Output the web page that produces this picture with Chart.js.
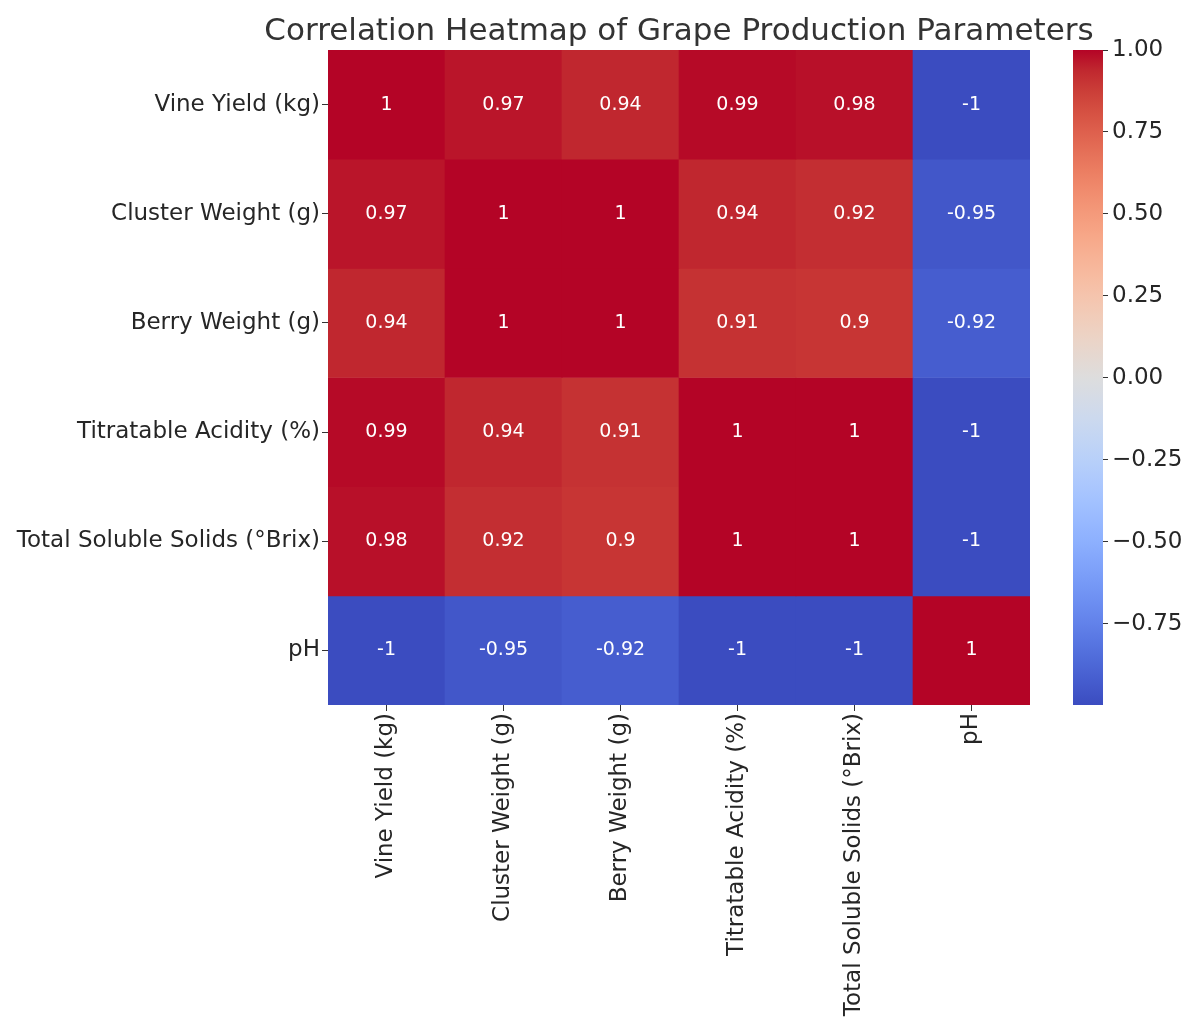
<!DOCTYPE html>
<html>
<head>
<meta charset="utf-8">
<script src="https://cdn.jsdelivr.net/npm/chart.js@4"></script>
<style>
  body { margin: 0; background: #fff; }
  #wrap { position: relative; width: 1188px; height: 1023px; }
  #heat { position: absolute; left: 0; top: 0; }
  #bar { position: absolute; left: 1060px; top: 0; }
</style>
</head>
<body>
<div id="wrap">
  <canvas id="heat" width="1188" height="1023"></canvas>
  <canvas id="bar" width="128" height="1023"></canvas>
</div>
<script>
// data
let variables = ['Vine Yield (kg)', 'Cluster Weight (g)', 'Berry Weight (g)', 'Titratable Acidity (%)', 'Total Soluble Solids (°Brix)', 'pH'];
let vineYield = [1, 0.97, 0.94, 0.99, 0.98, -1];
let clusterWeight = [0.97, 1, 1, 0.94, 0.92, -0.95];
let berryWeight = [0.94, 1, 1, 0.91, 0.9, -0.92];
let acidity = [0.99, 0.94, 0.91, 1, 1, -1];
let solids = [0.98, 0.92, 0.9, 1, 1, -1];
let ph = [-1, -0.95, -0.92, -1, -1, 1];
let matrix = [vineYield, clusterWeight, berryWeight, acidity, solids, ph];
let colorbarTicks = [-0.75, -0.5, -0.25, 0, 0.25, 0.5, 0.75, 1];
let vmin = -0.998;
let vmax = 1;
let title = 'Correlation Heatmap of Grape Production Parameters';

// coolwarm colormap stops
let coolwarm = [
  [59,76,192],[68,90,204],[77,104,215],[87,117,225],[98,130,234],[108,142,241],
  [119,154,247],[130,165,251],[141,176,254],[152,185,255],[163,194,255],[174,201,253],
  [184,208,249],[194,213,244],[204,217,238],[213,219,230],[221,221,221],[229,216,209],
  [236,211,197],[241,204,185],[245,196,173],[247,187,160],[247,177,148],[247,166,135],
  [244,154,123],[241,141,111],[236,127,99],[229,112,88],[222,96,77],[213,80,66],
  [203,62,56],[192,40,47],[180,4,38]
];

function cmap(t) {
  t = Math.max(0, Math.min(1, t));
  let pos = t * (coolwarm.length - 1);
  let i = Math.min(Math.floor(pos), coolwarm.length - 2);
  let f = pos - i;
  let a = coolwarm[i], b = coolwarm[i + 1];
  let c = a.map((v, k) => Math.round(v + (b[k] - v) * f));
  return 'rgb(' + c.join(',') + ')';
}

function colorFor(v) {
  return cmap((v - vmin) / (vmax - vmin));
}

let textColor = '#262626';
let font = 'DejaVu Sans';

// cell annotations + title centred over the heatmap
let cellLabels = {
  id: 'cellLabels',
  afterDatasetsDraw(chart) {
    let ctx = chart.ctx;
    ctx.save();
    ctx.font = '19px "' + font + '"';
    ctx.fillStyle = '#ffffff';
    ctx.textAlign = 'center';
    ctx.textBaseline = 'middle';
    chart.data.datasets.forEach((ds, r) => {
      chart.getDatasetMeta(r).data.forEach((el, c) => {
        ctx.fillText(String(matrix[r][c]), el.x, (el.y + el.base) / 2);
      });
    });
    let area = chart.chartArea;
    ctx.font = '31px "' + font + '"';
    ctx.fillStyle = '#333';
    ctx.textBaseline = 'alphabetic';
    ctx.fillText(title, (area.left + area.right) / 2, 40);
    ctx.restore();
  }
};

let datasets = matrix.map((row, r) => ({
  label: variables[r],
  data: row.map(() => [r, r + 1]),
  backgroundColor: row.map(colorFor),
  borderWidth: 0,
  barPercentage: 1,
  categoryPercentage: 1
}));

new Chart(document.getElementById('heat'), {
  type: 'bar',
  data: { labels: variables, datasets: datasets },
  plugins: [cellLabels],
  options: {
    responsive: false,
    animation: false,
    layout: { padding: { right: 158, top: 50 } },
    plugins: {
      legend: { display: false },
      tooltip: { enabled: false },
      title: { display: false }
    },
    scales: {
      x: {
        stacked: true,
        afterFit: (s) => { s.height = 318; },
        grid: { display: true, offset: false, drawOnChartArea: false, tickLength: 6, color: '#333' },
        border: { display: false },
        ticks: {
          color: textColor, minRotation: 90, maxRotation: 90, autoSkip: false, padding: 2,
          font: { family: font, size: 23 }
        }
      },
      y: {
        min: 0,
        max: 6,
        reverse: true,
        afterFit: (s) => { s.width = 328; },
        afterBuildTicks: (axis) => { axis.ticks = variables.map((_, i) => ({ value: i + 0.5 })); },
        grid: { display: true, drawOnChartArea: false, tickLength: 6, color: '#333' },
        border: { display: false },
        ticks: {
          color: textColor, padding: 2, autoSkip: false,
          font: { family: font, size: 23 },
          callback: (v, i) => variables[i]
        }
      }
    }
  }
});

// colorbar
new Chart(document.getElementById('bar'), {
  type: 'bar',
  data: {
    labels: [''],
    datasets: [{
      data: [[vmin, vmax]],
      borderWidth: 0,
      barPercentage: 1,
      categoryPercentage: 1,
      backgroundColor: (context) => {
        let area = context.chart.chartArea;
        if (!area) return null;
        let g = context.chart.ctx.createLinearGradient(0, area.bottom, 0, area.top);
        coolwarm.forEach((c, i) => g.addColorStop(i / (coolwarm.length - 1), 'rgb(' + c.join(',') + ')'));
        return g;
      }
    }]
  },
  options: {
    responsive: false,
    animation: false,
    layout: { padding: { left: 13, top: 50, bottom: 318 } },
    plugins: { legend: { display: false }, tooltip: { enabled: false } },
    scales: {
      x: { display: false },
      y: {
        position: 'right',
        min: vmin,
        max: vmax,
        afterFit: (s) => { s.width = 85; },
        afterBuildTicks: (axis) => { axis.ticks = colorbarTicks.map(v => ({ value: v })); },
        grid: { display: true, drawOnChartArea: false, tickLength: 5, color: '#333' },
        border: { display: false },
        ticks: {
          color: textColor, padding: 4,
          font: { family: font, size: 23 },
          callback: (v) => v.toFixed(2).replace('-', '\u2212')
        }
      }
    }
  }
});
</script>
</body>
</html>
